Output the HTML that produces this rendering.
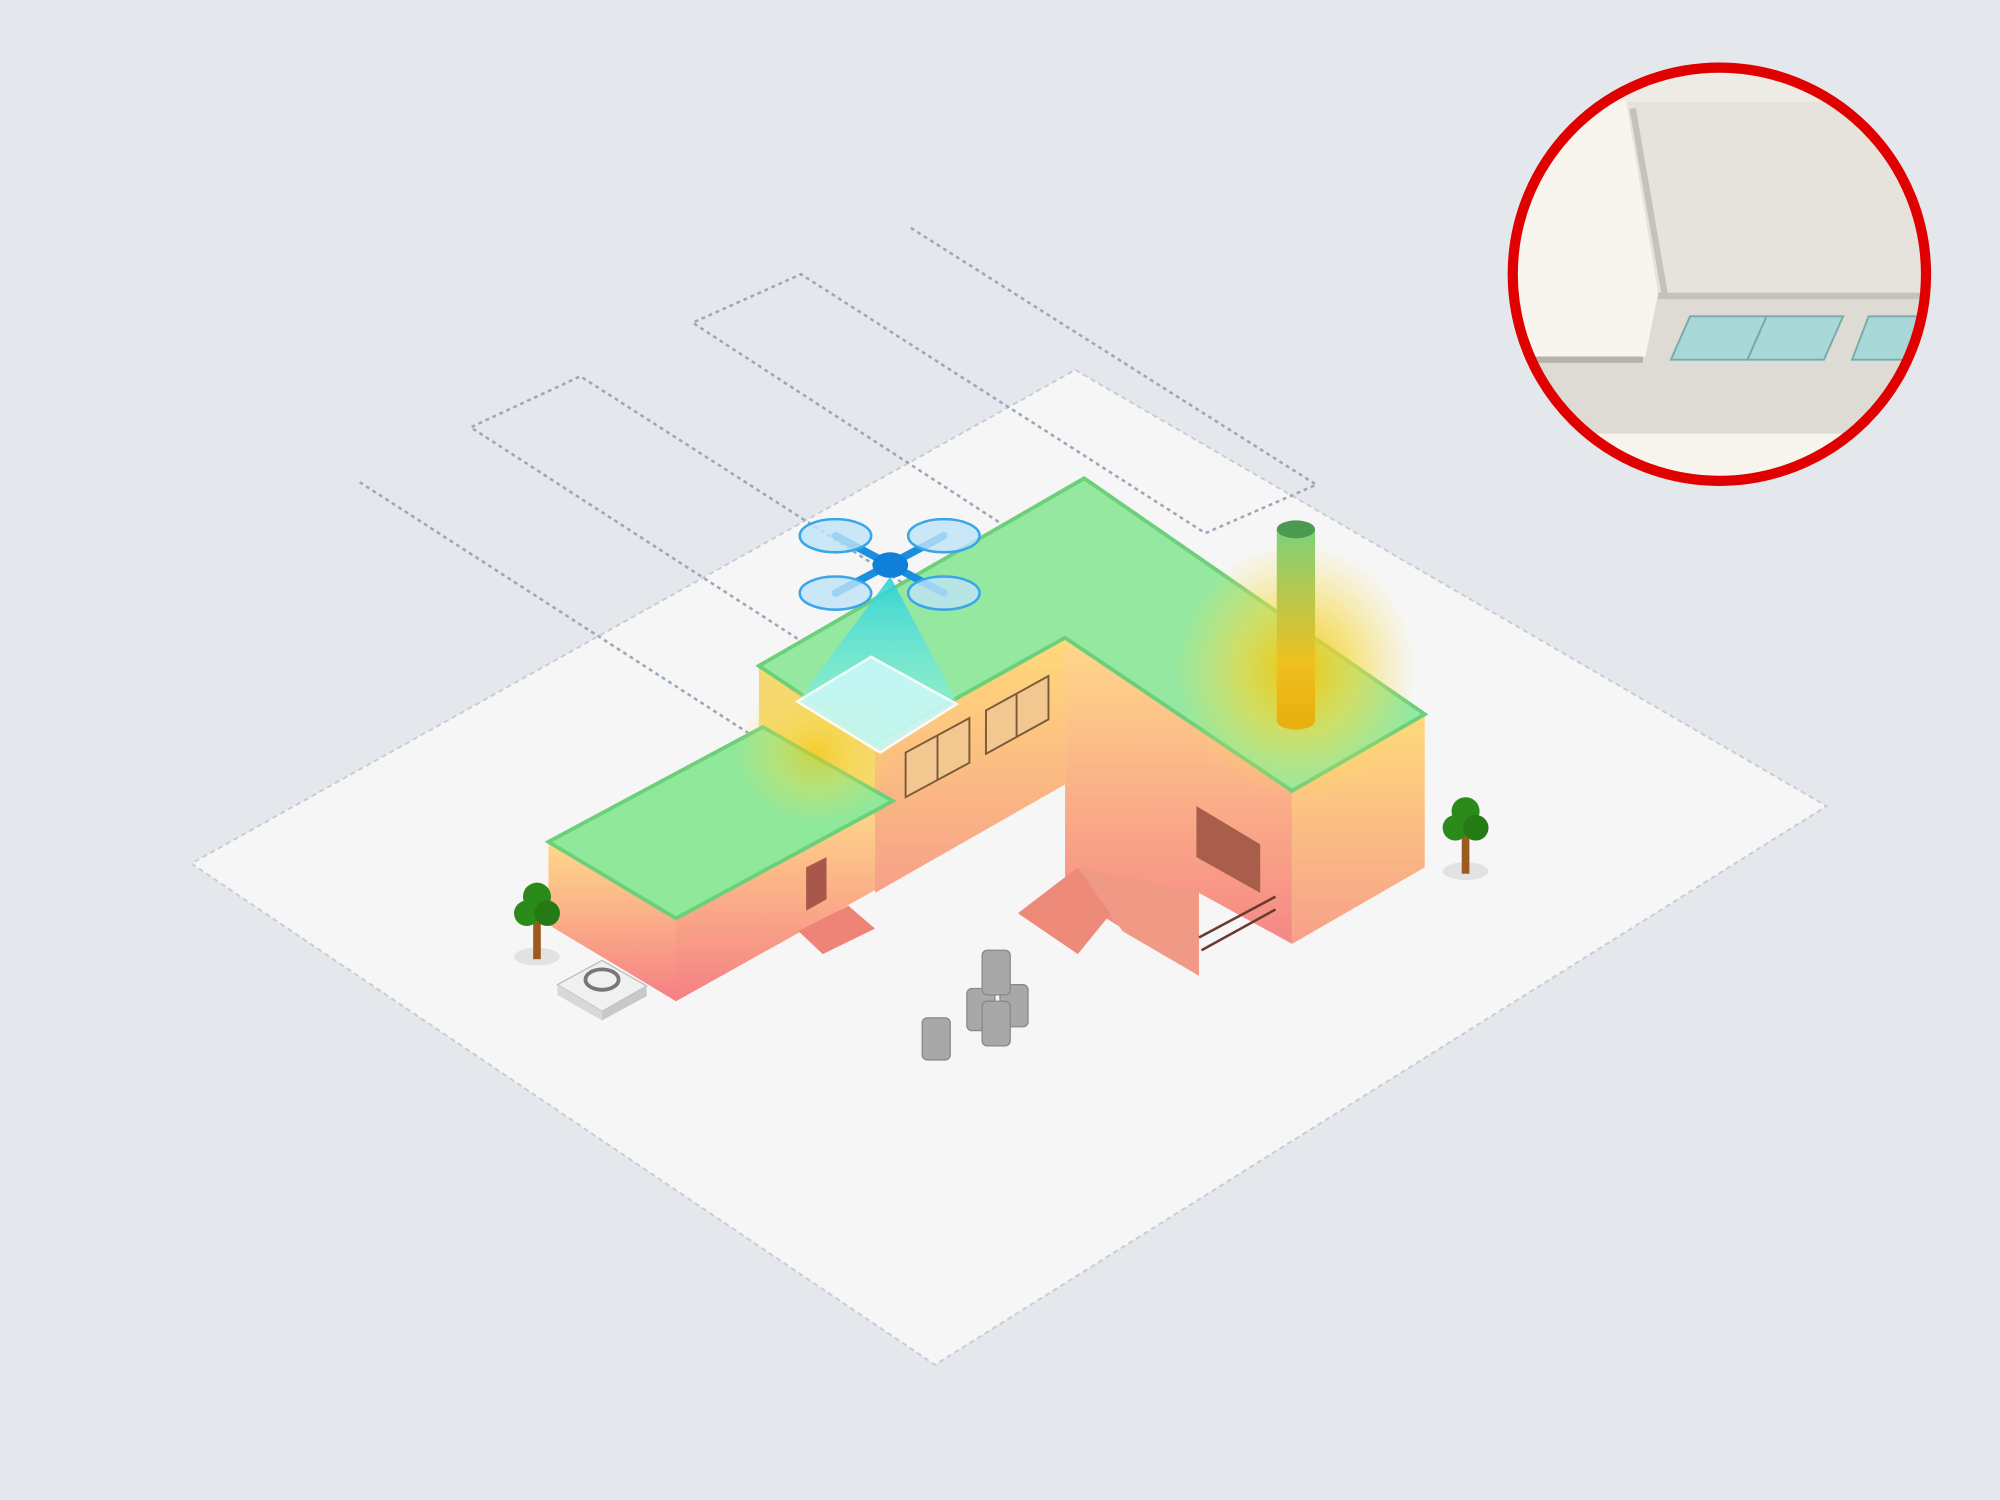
<!DOCTYPE html>
<html><head><meta charset="utf-8"><style>
html,body{margin:0;padding:0;background:#e4e8ed;width:2000px;height:1500px;overflow:hidden}
svg{display:block}
</style></head><body>
<svg width="2000" height="1500" viewBox="0 0 1568 1176" xmlns="http://www.w3.org/2000/svg">
<defs>
<linearGradient id="wall" x1="0" y1="0" x2="0" y2="1">
<stop offset="0" stop-color="#ffd98a"/><stop offset="1" stop-color="#f57f85"/></linearGradient>
<linearGradient id="wall2" x1="0" y1="0" x2="0" y2="1">
<stop offset="0" stop-color="#ffda7a"/><stop offset="1" stop-color="#f7a08a"/></linearGradient>
<linearGradient id="chim" x1="0" y1="0" x2="0" y2="1">
<stop offset="0" stop-color="#7fd07a"/><stop offset="0.7" stop-color="#f0c020"/><stop offset="1" stop-color="#e8b010"/></linearGradient>
<radialGradient id="hot" cx="0.5" cy="0.5" r="0.5">
<stop offset="0" stop-color="#f5c400" stop-opacity="0.95"/><stop offset="0.5" stop-color="#f5d840" stop-opacity="0.6"/><stop offset="1" stop-color="#f5e060" stop-opacity="0"/></radialGradient>
<linearGradient id="beam" x1="0" y1="0" x2="0" y2="1">
<stop offset="0" stop-color="#2ad0d8" stop-opacity="0.9"/><stop offset="1" stop-color="#7ff0f0" stop-opacity="0.5"/></linearGradient>
<clipPath id="cc"><circle cx="1348" cy="215" r="160"/></clipPath>
</defs>
<rect width="1568" height="1176" fill="#e4e8ed"/>
<polygon points="843,290 1432,632 733,1070 150,677" fill="#f6f6f6" stroke="#c8ccd2" stroke-width="1.5" stroke-dasharray="4 3"/>
<polyline points="282,378 598,582 686,540 369,335 455,295 770,497 858,458 543,253 628,215 945,418 1032,380 713,178" fill="none" stroke="#9aa8ba" stroke-width="2" stroke-dasharray="3 3"/>
<polygon points="430,660 530,720 530,785 430,725" fill="url(#wall)"/>
<polygon points="530,720 700,628 700,690 530,785" fill="url(#wall)"/>
<polygon points="595,522 686,575 686,640 595,590" fill="#f5d870"/>
<polygon points="686,583 835,500 835,615 686,700" fill="url(#wall2)"/>
<polygon points="835,500 1013,620 1013,740 940,700 940,765 835,700" fill="url(#wall)"/>
<polygon points="1013,620 1117,560 1117,680 1013,740" fill="url(#wall2)"/>
<polygon points="798,716 845,680 880,705 845,748" fill="#ee8a7a"/>
<polygon points="845,680 940,700 940,765 880,730" fill="#f09a86"/>
<polygon points="626,730 665,710 686,728 645,748" fill="#ee8377"/>
<polygon points="430,660 598,570 700,628 530,720" fill="#90e89a" stroke="#6ccf7a" stroke-width="3"/>
<polygon points="595,522 850,375 1117,560 1013,620 835,500 686,583" fill="#94e8a0" stroke="#6ccf7a" stroke-width="3"/>
<ellipse cx="1016" cy="525" rx="95" ry="100" fill="url(#hot)"/>
<ellipse cx="640" cy="590" rx="65" ry="55" fill="url(#hot)" opacity="0.6"/>
<polygon points="710,590 760,563 760,598 710,625" fill="#f3c890" stroke="#7a5a3a" stroke-width="1.5"/>
<line x1="735" y1="577" x2="735" y2="612" stroke="#7a5a3a" stroke-width="1.5"/>
<polygon points="773,557 822,530 822,564 773,591" fill="#f3c890" stroke="#7a5a3a" stroke-width="1.5"/>
<line x1="797" y1="544" x2="797" y2="578" stroke="#7a5a3a" stroke-width="1.5"/>
<polygon points="938,632 988,662 988,700 938,672" fill="#a85e4a"/>
<polygon points="632,680 648,672 648,705 632,714" fill="#a8574a"/>
<polyline points="940,735 1000,703" stroke="#6a3a30" stroke-width="2" fill="none"/>
<polyline points="942,745 1000,713" stroke="#6a3a30" stroke-width="2" fill="none"/>
<rect x="1001" y="415" width="30" height="150" fill="url(#chim)"/>
<ellipse cx="1016" cy="565" rx="15" ry="7" fill="#e8b010"/>
<ellipse cx="1016" cy="415" rx="15" ry="7" fill="#4a9a50"/>
<polygon points="698,452 625,550 750,550" fill="url(#beam)"/>
<polygon points="625,550 683,515 750,552 690,590" fill="#c8f8f8" stroke="#ffffff" stroke-width="2" opacity="0.9"/>
<g stroke="#1a8fe0" stroke-width="6" stroke-linecap="round">
<line x1="655" y1="420" x2="740" y2="465"/><line x1="740" y1="420" x2="655" y2="465"/></g>
<g fill="#bfe3f8" fill-opacity="0.8" stroke="#3aa6ea" stroke-width="2">
<ellipse cx="655" cy="420" rx="28" ry="13"/><ellipse cx="740" cy="420" rx="28" ry="13"/>
<ellipse cx="655" cy="465" rx="28" ry="13"/><ellipse cx="740" cy="465" rx="28" ry="13"/></g>
<ellipse cx="698" cy="443" rx="14" ry="10" fill="#0f7fd8"/>
<g><ellipse cx="421" cy="750" rx="18" ry="7" fill="#e2e2e2"/><rect x="418" y="722" width="6" height="30" fill="#9a5a20"/>
<circle cx="421" cy="703" r="11" fill="#2a8a1a"/><circle cx="413" cy="716" r="10" fill="#2a8a1a"/><circle cx="429" cy="716" r="10" fill="#257a15"/></g>
<g><ellipse cx="1149" cy="683" rx="18" ry="7" fill="#e2e2e2"/><rect x="1146" y="655" width="6" height="30" fill="#9a5a20"/>
<circle cx="1149" cy="636" r="11" fill="#2a8a1a"/><circle cx="1141" cy="649" r="10" fill="#2a8a1a"/><circle cx="1157" cy="649" r="10" fill="#257a15"/></g>
<polygon points="437,772 472,753 507,773 472,793" fill="#f0f0f0" stroke="#bbb"/>
<polygon points="437,772 472,793 472,800 437,780" fill="#d8d8d8"/><polygon points="472,793 507,773 507,781 472,800" fill="#c8c8c8"/>
<ellipse cx="472" cy="768" rx="13" ry="8" fill="none" stroke="#777" stroke-width="3"/>
<g fill="#a8a8a8" stroke="#888">
<rect x="723" y="798" width="22" height="33" rx="4"/><rect x="758" y="775" width="22" height="33" rx="4"/>
<rect x="784" y="772" width="22" height="33" rx="4"/><rect x="770" y="785" width="22" height="35" rx="4"/>
<rect x="770" y="745" width="22" height="35" rx="4"/></g>
<g clip-path="url(#cc)">
<rect x="1180" y="50" width="340" height="340" fill="#e6e2dc"/>
<polygon points="1250,50 1275,80 1300,230 1290,280 1180,280 1180,50" fill="#f8f5ee"/>
<polygon points="1275,80 1520,80 1520,50 1250,50" fill="#eeeae4"/>
<polygon points="1300,230 1520,230 1520,340 1180,340 1180,280 1290,280" fill="#dedad4"/>
<line x1="1280" y1="85" x2="1305" y2="230" stroke="#c7c2b8" stroke-width="5"/>
<line x1="1300" y1="232" x2="1520" y2="232" stroke="#c7c2b8" stroke-width="5"/>
<line x1="1180" y1="282" x2="1288" y2="282" stroke="#b8b3aa" stroke-width="5"/>
<polygon points="1325,248 1385,248 1370,282 1310,282" fill="#a8d8d8" stroke="#7aa" stroke-width="1.5"/>
<polygon points="1385,248 1445,248 1430,282 1370,282" fill="#a8d8d8" stroke="#7aa" stroke-width="1.5"/>
<polygon points="1465,248 1520,248 1520,282 1452,282" fill="#a8d8d8" stroke="#7aa" stroke-width="1.5"/>
<rect x="1180" y="340" width="340" height="50" fill="#f7f4ee"/>
</g>
<circle cx="1348" cy="215" r="162" fill="none" stroke="#e00000" stroke-width="8"/>
</svg>
</body></html>
